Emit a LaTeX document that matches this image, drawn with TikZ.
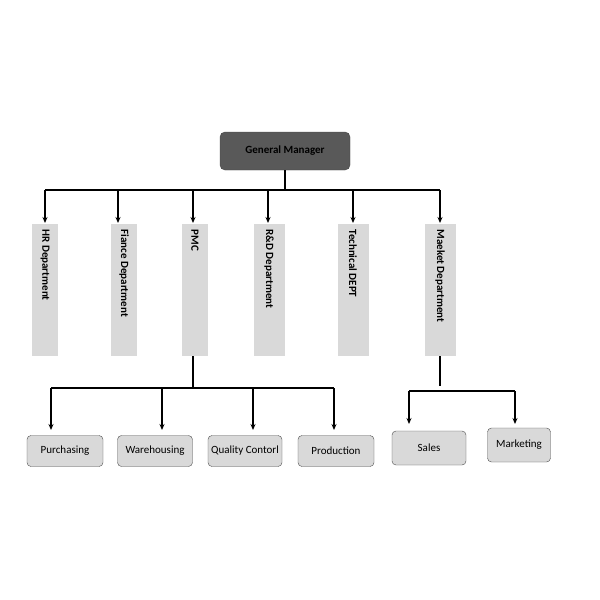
\documentclass[tikz,border=0pt]{standalone}
\usepackage{fontspec}
\setmainfont{Carlito}
\usetikzlibrary{arrows.meta}
\definecolor{dk}{HTML}{595959}
\definecolor{lt}{HTML}{D9D9D9}
\tikzset{
 gm/.style={fill=dk,draw=dk!80!black,rounded corners=5pt,minimum width=130pt,minimum height=38pt,font=\bfseries\fontsize{11}{12}\selectfont},
 dept/.style={fill=lt,minimum width=26pt,minimum height=132pt,anchor=north},
 dtext/.style={rotate=-90,anchor=west,font=\bfseries\fontsize{11}{12}\selectfont},
 sub/.style={fill=lt,draw=black!70,rounded corners=4pt,minimum height=31pt,inner sep=1pt,font=\fontsize{11}{12}\selectfont},
 arr/.style={-{Stealth[length=6pt,width=5pt]},line width=1.1pt},
 ln/.style={line width=1.1pt}
}
\begin{document}
\begin{tikzpicture}[x=1pt,y=-1pt]
\useasboundingbox (0,0) rectangle (600,600);
\node[gm] (gm) at (285,151) {General Manager};
\foreach \n/\x/\w/\t in {hr/45/26/HR Department, fi/124/26/Fiance Department, pmc/195/26/PMC, rd/269/31/R\&D Department, te/353/31/Technical DEPT, ma/440/31/Maeket Department}{
 \node[dept,minimum width=\w pt] (\n) at (\x,224) {};
 \node[dtext] (\n t) at (\x,226) {\t};
}
\coordinate (j) at (285,190);
\draw[ln] (gm.south) -- (j);
\draw[ln] (45,190) -- (440,190);
\foreach \n/\x in {hr/45,fi/118,pmc/193,rd/268,te/353,ma/440}{
 \draw[arr] (\x,190) -- (\x,223);
}
\node[sub,minimum width=76pt] (pu) at (65,451) {Purchasing};
\node[sub,minimum width=75pt] (wa) at (155,451) {Warehousing};
\node[sub,minimum width=74pt] (qc) at (245,451) {Quality Contorl};
\node[sub,minimum width=76pt] (pr) at (336,451) {Production};
\node[sub,minimum width=74pt,minimum height=34pt] (sa) at (429,448) {Sales};
\node[sub,minimum width=63pt,minimum height=34pt] (mk) at (519,445) {Marketing};
\draw[ln] (pmc.south -| 193,0) -- (193,388);
\draw[ln] (51,388) -- (334,388);
\foreach \x in {51,162,253,334}{\draw[arr] (\x,388) -- (\x,430);}
\draw[ln] (440,356) -- (440,386);
\draw[ln] (409,391) -- (515,391);
\foreach \x in {409,515}{\draw[arr] (\x,391) -- (\x,424);}
\end{tikzpicture}
\end{document}
